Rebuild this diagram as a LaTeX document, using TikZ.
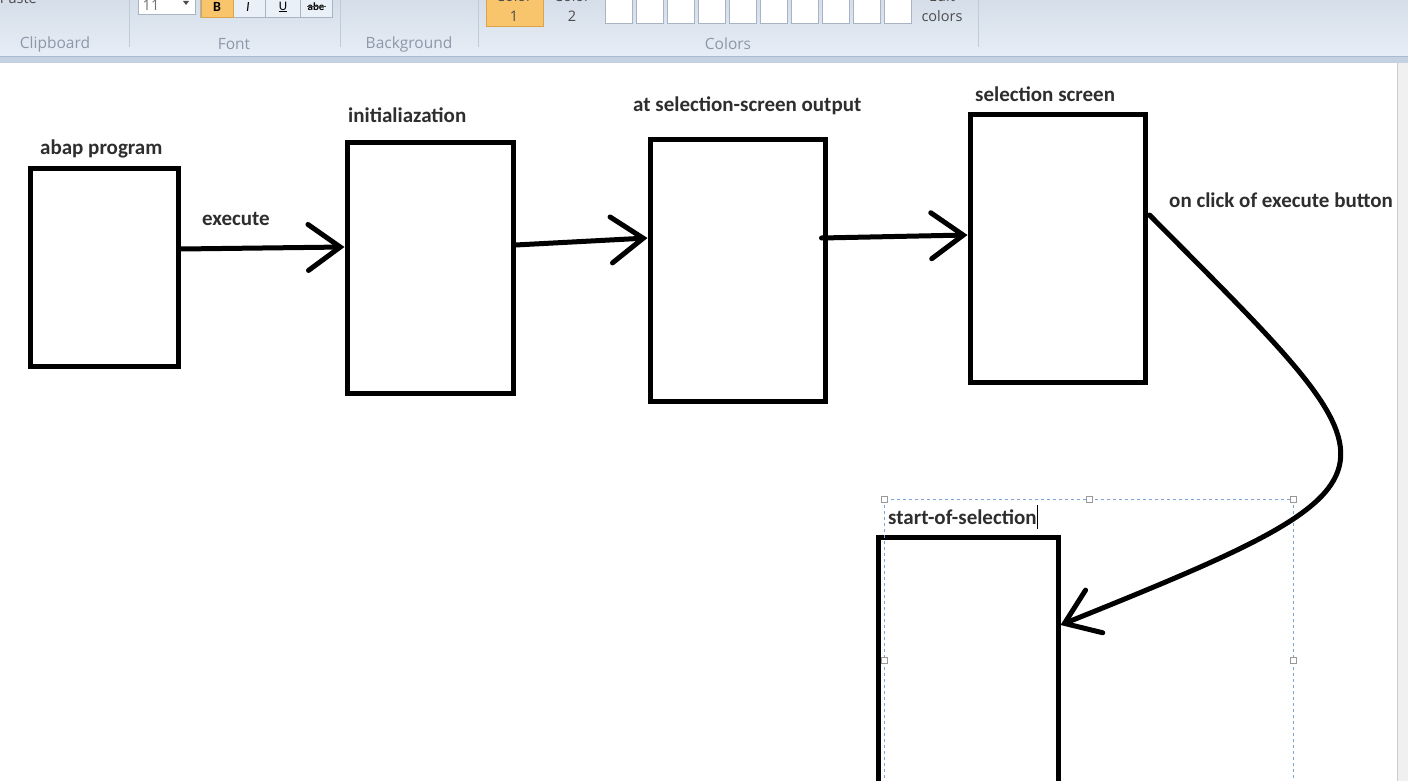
\documentclass[tikz,border=0pt]{standalone}
\usepackage{fontspec}
\setmainfont{Carlito}
\newfontfamily\uifont{Open Sans}
\usetikzlibrary{arrows.meta}
\definecolor{ribbon}{HTML}{DCE6F3}
\definecolor{ribbonband}{HTML}{C3D1E2}
\definecolor{ribbonline}{HTML}{A9BBD0}
\definecolor{sep}{HTML}{BFCBDA}
\definecolor{grouptxt}{HTML}{8C98A8}
\definecolor{btnorange}{HTML}{F8C46C}
\definecolor{btnedge}{HTML}{DDA24A}
\definecolor{boxedge}{HTML}{A8B4C3}
\definecolor{labeltxt}{HTML}{2E2E2E}
\definecolor{selblue}{HTML}{7CA3D4}
\tikzset{
  stage/.style={draw=black, line width=5pt, fill=white, inner sep=0pt},
  lbl/.style={anchor=west, inner sep=0pt, font=\bfseries\fontsize{21}{23}\selectfont, text=labeltxt},
  arr/.style={line width=5pt, line cap=round, line join=round,
    -{Straight Barb[length=32pt,width=46pt,line cap=round]}},
  grp/.style={inner sep=0pt, font=\uifont\fontsize{15.5}{17}\selectfont, text=grouptxt},
  uitxt/.style={inner sep=0pt, font=\uifont\fontsize{14.5}{16}\selectfont, text=black!70},
  swatch/.style={draw=boxedge, fill=white, line width=1pt},
  handle/.style={draw=gray!80, fill=white, line width=0.8pt, minimum size=6pt, inner sep=0pt}
}
\begin{document}
\begin{tikzpicture}[x=1pt,y=-1pt]
\useasboundingbox (0,0) rectangle (1408,781);
\clip (0,0) rectangle (1408,781);
% canvas
\fill[white] (0,0) rectangle (1408,781);
\fill[gray!12] (1397,63) rectangle (1408,781);
\draw[gray!40, line width=1pt] (1397,63) -- (1397,781);
% ribbon
\shade[top color=ribbon!90!gray!95!white, bottom color=ribbon!70!white] (0,0) rectangle (1408,57);
\fill[ribbonband] (0,57) rectangle (1408,63);
\draw[ribbonline, line width=1pt] (0,57) -- (1408,57);
\foreach \x in {129,340,478,978} \draw[sep, line width=1pt] (\x,0) -- (\x,47);
\node[uitxt, anchor=east] (paste) at (37,-2) {Paste};
% font group
\draw[boxedge, fill=white, line width=1pt] (138,-4) rectangle (195,15);
\node[uitxt, text=black!55] (fsize) at (151,5) {11};
\fill[black!70] (183,1) -- (189,1) -- (186,5) -- cycle;
\draw[boxedge, fill=ribbon!60!white, line width=1pt] (200,-4) rectangle (332,18);
\draw[btnedge, fill=btnorange, line width=1pt] (201,-4) rectangle (233,18);
\foreach \x in {265,300} \draw[boxedge, line width=0.8pt] (\x,-4) -- (\x,18);
\node[inner sep=0pt, font=\bfseries\fontsize{14}{16}\selectfont] (bbtn) at (217,7) {B};
\node[inner sep=0pt, font=\itshape\fontsize{14}{16}\selectfont] (ibtn) at (248,7) {I};
\node[inner sep=0pt, font=\fontsize{13}{14}\selectfont] (ubtn) at (283,7) {\underline{U}};
\node[inner sep=0pt, font=\bfseries\fontsize{11}{13}\selectfont] (sbtn) at (316,7) {abe};
\draw[black!70, line width=1pt] (307,7) -- (326,7);
% colors group
\draw[btnedge, fill=btnorange, line width=1pt] (486,-4) rectangle (543,27);
\node[uitxt] (c1a) at (514,-4) {Color};
\node[uitxt] (c1b) at (514,16) {1};
\node[uitxt] (c2a) at (572,-4) {Color};
\node[uitxt] (c2b) at (572,16) {2};
\foreach \i in {0,...,9} \draw[swatch] ({605+31*\i},-4) rectangle ({632+31*\i},24);
\node[uitxt] (ed1) at (942,-4) {Edit};
\node[uitxt] (ed2) at (942,16) {colors};
% group labels
\node[grp] (g1) at (55,44) {Clipboard};
\node[grp] (g2) at (234,44) {Font};
\node[grp] (g3) at (409,44) {Background};
\node[grp] (g4) at (728,44) {Colors};
% stages
\node[stage, minimum width=148pt, minimum height=198pt] (b1) at (104,267) {};
\node[stage, minimum width=166pt, minimum height=250pt] (b2) at (430,268) {};
\node[stage, minimum width=175pt, minimum height=261pt] (b3) at (737.5,270.5) {};
\node[stage, minimum width=175pt, minimum height=267pt] (b4) at (1057.5,248.5) {};
\node[stage, minimum width=180pt, minimum height=300pt] (b5) at (968,687) {};
% labels
\node[lbl] (l1) at (40,149) {abap program};
\node[lbl] (l2) at (348,115) {initialiazation};
\node[lbl] (l3) at (633,106) {at selection-screen output};
\node[lbl] (l4) at (975,94) {selection screen};
\node[lbl] (l5) at (888,517) {start-of-selection};
\node[lbl] (lexec) at (202,219) {execute};
\node[lbl] (lclick) at (1169,200) {on click of execute button};
% selection frame
\draw[selblue, dashed, line width=1pt] (884,499) rectangle (1293,800);
\draw[black, line width=1pt] (l5.east) ++(1,-12) -- ++(0,24);
\foreach \p in {(884,499),(1089,499),(1293,499),(884,660),(1293,660)}
  \node[handle] at \p {};
% connectors
\draw[arr] ([yshift=18pt]b1.east) -- ([yshift=21pt]b2.west);
\draw[arr] ([yshift=23pt]b2.east) -- ([yshift=32.5pt]b3.west);
\draw[arr] ([yshift=32.5pt,xshift=-6pt]b3.east) -- ([yshift=13.5pt]b4.west);
\draw[arr] ([yshift=33.5pt,xshift=2pt]b4.east) .. controls (1407,475) and (1428,477) .. ([yshift=62pt]b5.east);
\end{tikzpicture}
\end{document}
